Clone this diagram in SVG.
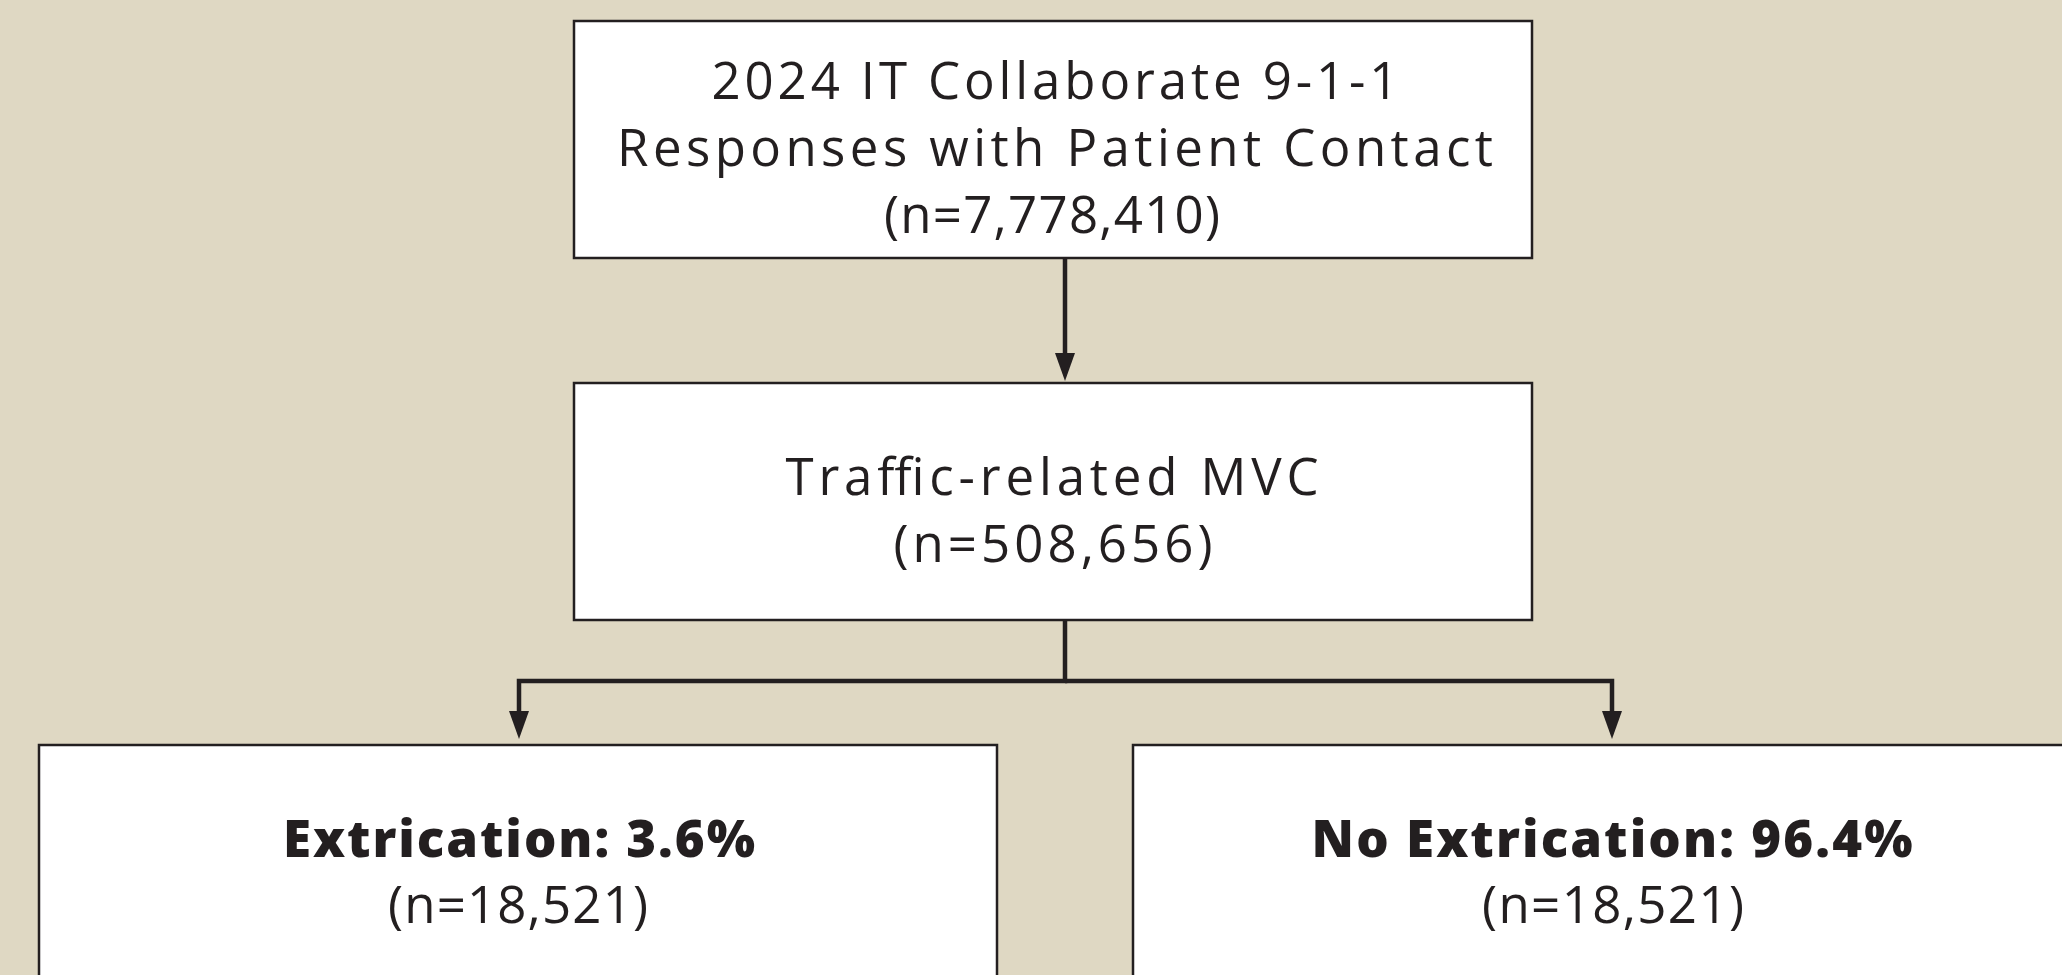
<svg xmlns="http://www.w3.org/2000/svg" width="2062" height="975" viewBox="0 0 2062 975">
<defs>
<style>
.box{fill:#ffffff;stroke:#231f20;stroke-width:2.5}
.t{font-family:"Open Sans","Liberation Sans",Arial,sans-serif;font-size:51px;fill:#231f20;text-anchor:middle}
.b{font-weight:800}
.c{fill:none;stroke:#231f20;stroke-width:4.5}
.ah{fill:#231f20}
</style>
</defs>
<rect x="0" y="0" width="2062" height="975" fill="#dfd8c3"/>
<g id="connectors">
<line class="c" x1="1065" y1="258" x2="1065" y2="356"/>
<polygon class="ah" points="1055,353 1075,353 1065,381"/>
<polyline class="c" points="1065,620 1065,681 519,681 519,714"/>
<polyline class="c" points="1065,681 1612,681 1612,714"/>
<polygon class="ah" points="509,711 529,711 519,739"/>
<polygon class="ah" points="1602,711 1622,711 1612,739"/>
</g>
<g id="node-total">
<rect class="box" x="574" y="21" width="958" height="237"/>
<text class="t" x="1055" y="99" textLength="687" lengthAdjust="spacing">2024 IT Collaborate 9-1-1</text>
<text class="t" x="1055" y="166" textLength="876" lengthAdjust="spacing">Responses with Patient Contact</text>
<text class="t" x="1052" y="233" textLength="336" lengthAdjust="spacing">(n=7,778,410)</text>
</g>
<g id="node-mvc">
<rect class="box" x="574" y="383" width="958" height="237"/>
<text class="t" x="1052" y="495" textLength="533" lengthAdjust="spacing">Traffic-related MVC</text>
<text class="t" x="1053" y="562" textLength="319" lengthAdjust="spacing">(n=508,656)</text>
</g>
<g id="node-extrication">
<rect class="box" x="39" y="745" width="958" height="300"/>
<text class="t b" x="519" y="857" textLength="472" lengthAdjust="spacing">Extrication: 3.6%</text>
<text class="t" x="518" y="923" textLength="260" lengthAdjust="spacing">(n=18,521)</text>
</g>
<g id="node-no-extrication">
<rect class="box" x="1133" y="745" width="958" height="300"/>
<text class="t b" x="1612" y="857" textLength="601" lengthAdjust="spacing">No Extrication: 96.4%</text>
<text class="t" x="1613" y="923" textLength="262" lengthAdjust="spacing">(n=18,521)</text>
</g>
</svg>
